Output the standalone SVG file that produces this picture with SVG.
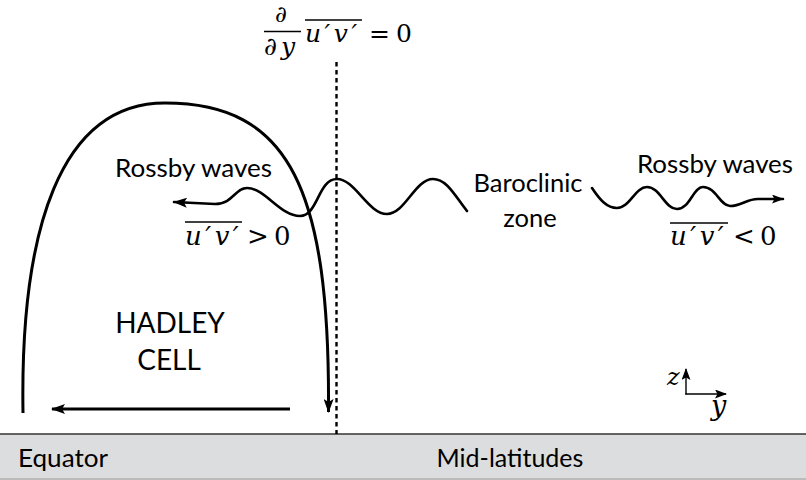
<svg xmlns="http://www.w3.org/2000/svg" width="806" height="480" viewBox="0 0 806 480">
<defs>
<marker id="ah" viewBox="0 0 14 10" refX="13" refY="5" markerWidth="14" markerHeight="10" markerUnits="userSpaceOnUse" orient="auto">
<path d="M0,0 L14,5 L0,10 L3,5 Z" fill="#000"/>
</marker>
<marker id="ahs" viewBox="0 0 12 9" refX="11" refY="4.5" markerWidth="12" markerHeight="9" markerUnits="userSpaceOnUse" orient="auto">
<path d="M0,0 L12,4.5 L0,9 L2.5,4.5 Z" fill="#000"/>
</marker>
<style>
.lbl{font-family:Lato,"Open Sans","Liberation Sans",sans-serif;fill:#000}
.math{font-family:"DejaVu Serif","Liberation Serif",serif;fill:#000}
.it{font-style:italic}
.thick{fill:none;stroke:#000;stroke-width:3}
.wave{fill:none;stroke:#000;stroke-width:2.6;stroke-linecap:round}
.thin{fill:none;stroke:#000;stroke-width:1.4}
.bar{stroke:#000;stroke-width:1.3}
</style>
</defs>
<rect width="806" height="480" fill="#fff"/>

<g id="ground">
<rect x="0" y="434" width="806" height="46" fill="#dcdddf"/>
<line x1="0" y1="434" x2="806" y2="434" stroke="#333" stroke-width="1.5"/>
<line x1="0" y1="479" x2="806" y2="479" stroke="#9a9a9a" stroke-width="1.2"/>
<text class="lbl" x="18" y="467" font-size="25" textLength="90" lengthAdjust="spacingAndGlyphs">Equator</text>
<text class="lbl" x="510" y="467" font-size="25" text-anchor="middle">Mid-latitudes</text>
</g>

<g id="formula-top">
<text class="math" x="281" y="22" font-size="23" text-anchor="middle">∂</text>
<line class="bar" x1="264" y1="31.5" x2="301" y2="31.5"/>
<text class="math" x="264" y="55" font-size="25">∂</text>
<text class="math it" x="281" y="55" font-size="25">y</text>
<line class="bar" x1="305" y1="20" x2="362" y2="20"/>
<text class="math it" x="305" y="42" font-size="25" letter-spacing="3.5">u′v′</text>
<text class="math" x="369" y="42" font-size="25">=</text>
<text class="math" x="396" y="42" font-size="25">0</text>
</g>

<g id="connectors">
<line id="divider" x1="336.5" y1="62" x2="336.5" y2="434" stroke="#000" stroke-width="2.4" stroke-dasharray="4.5,3.5"/>
<path id="hadley-arc" class="thick" d="M23,413 C20,230 60,103 165,103 C290,103 330,190 328.5,412" marker-end="url(#ah)"/>
<line id="hadley-return" class="thick" x1="290" y1="409" x2="52" y2="409" marker-end="url(#ah)"/>
<path id="wave-left" class="wave" d="M467,211 C455,196 447,179 433,179 C415,179 405,214 387,214 C368,214 355,179 337,179 C318,179 318,216 300,216 C280,216 265,188 247,188 C235,188 233,204 215,204 L174,202" marker-end="url(#ah)"/>
<path id="wave-right" class="wave" d="M592,188 C600,200 607,208 617,208 C630,208 635,187 647,187 C660,187 665,209 677,209 C690,209 693,187 703,187 C716,187 720,206 730,206 C742,206 746,199 758,199 L783,199" marker-end="url(#ahs)"/>
<line id="axis-z" class="thin" x1="686" y1="394.5" x2="686" y2="369" marker-end="url(#ahs)"/>
<line id="axis-y" class="thin" x1="685.3" y1="394" x2="726" y2="394" marker-end="url(#ahs)"/>
</g>

<g id="hadley-label">
<text class="lbl" x="170" y="333" font-size="28" text-anchor="middle">HADLEY</text>
<text class="lbl" x="169" y="370" font-size="28" text-anchor="middle">CELL</text>
</g>

<g id="rossby-left">
<text class="lbl" x="115" y="177" font-size="25.5" textLength="157" lengthAdjust="spacingAndGlyphs">Rossby waves</text>
<line class="bar" x1="185" y1="222" x2="242" y2="222"/>
<text class="math it" x="185" y="245" font-size="26" letter-spacing="3.5">u′v′</text>
<text class="math" x="247" y="245" font-size="26">&gt;</text>
<text class="math" x="274" y="245" font-size="26">0</text>
</g>

<g id="baroclinic">
<text class="lbl" x="528" y="192" font-size="25.5" text-anchor="middle">Baroclinic</text>
<text class="lbl" x="530" y="227" font-size="25.5" text-anchor="middle">zone</text>
</g>

<g id="rossby-right">
<text class="lbl" x="637" y="173" font-size="25.5" textLength="156" lengthAdjust="spacingAndGlyphs">Rossby waves</text>
<line class="bar" x1="670" y1="223" x2="728" y2="223"/>
<text class="math it" x="670" y="245" font-size="26" letter-spacing="3.5">u′v′</text>
<text class="math" x="733" y="245" font-size="26">&lt;</text>
<text class="math" x="760" y="245" font-size="26">0</text>
</g>

<g id="axes-labels">
<text class="math it" x="667" y="385" font-size="24">z</text>
<text class="math it" x="711" y="415" font-size="27">y</text>
</g>
</svg>
